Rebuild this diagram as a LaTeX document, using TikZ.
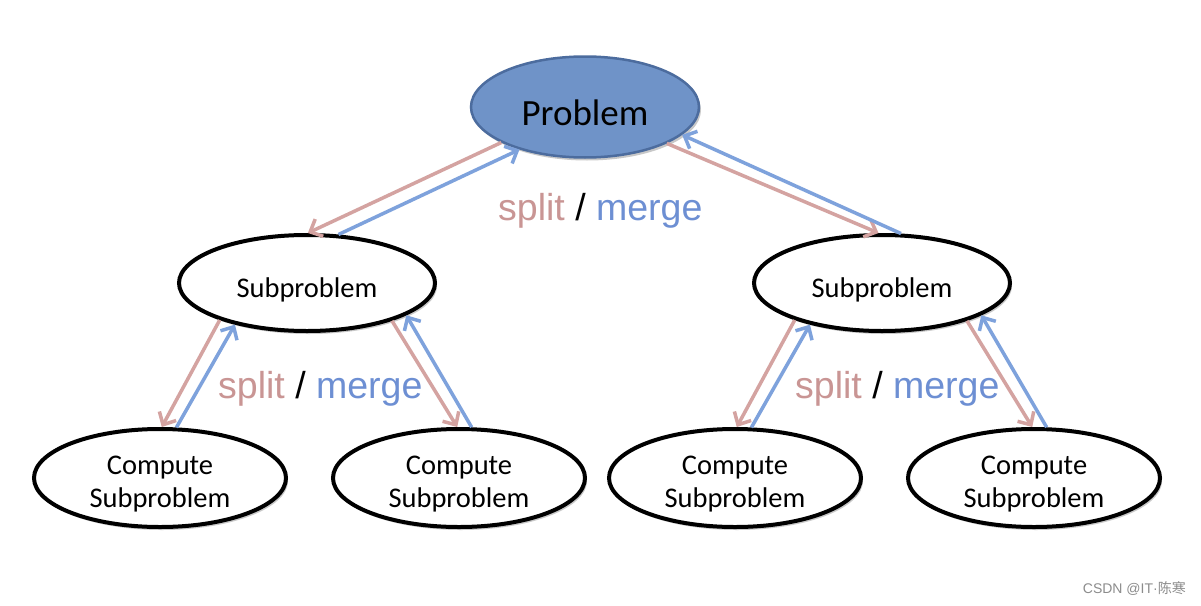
\documentclass[tikz,border=0pt]{standalone}
\usepackage{fontspec}
\setmainfont{Carlito}
\newfontfamily\arialf{Liberation Sans}
\newfontfamily\cjkf{Noto Sans CJK SC}
\usetikzlibrary{shapes.geometric,arrows.meta,shadows}
\definecolor{probfill}{HTML}{6F93C8}
\definecolor{probdraw}{HTML}{4C6C9E}
\definecolor{splitc}{HTML}{D4A3A1}
\definecolor{mergec}{HTML}{7EA2DC}
\definecolor{splittext}{HTML}{C99594}
\definecolor{mergetext}{HTML}{6D8FD3}
\tikzset{
  ell/.style={ellipse, draw=black, line width=4pt, fill=white, inner sep=0pt,
    drop shadow={shadow xshift=2pt, shadow yshift=-3pt, opacity=0.3, fill=black!70}},
  probnode/.style={ell, fill=probfill, draw=probdraw, line width=2.5pt,
    minimum width=228pt, minimum height=101pt, font=\fontsize{37}{44}\selectfont,
    text height=37pt, text depth=0pt},
  subnode/.style={ell, minimum width=256pt, minimum height=96pt,
    font=\fontsize{28.5}{33}\selectfont, text height=34pt, text depth=6pt},
  compnode/.style={ell, minimum width=252pt, minimum height=98pt,
    font=\fontsize{28.5}{33}\selectfont, text height=46pt, text depth=20pt},
  splitarr/.style={draw=splitc, line width=3.5pt, -{Straight Barb[length=10pt,width=19pt]}},
  mergearr/.style={draw=mergec, line width=3.5pt, -{Straight Barb[length=10pt,width=19pt]}},
  smlabel/.style={anchor=base west, inner sep=0pt, font=\arialf\fontsize{37.5}{44}\selectfont},
}
\newcommand{\smtext}{\textcolor{splittext}{split} / \textcolor{mergetext}{merge}}
\newcommand{\comptext}{\begin{tabular}{@{}c@{}}Compute\\Subproblem\end{tabular}}
\begin{document}
\begin{tikzpicture}[x=1pt,y=-1pt]
\useasboundingbox (0,0) rectangle (1201,605);
\fill[white] (0,0) rectangle (1201,605);

\node[probnode] (P) at (585,107) {Problem};
\node[subnode] (SL) at (307,283) {Subproblem};
\node[subnode] (SR) at (882,283) {Subproblem};
\node[compnode] (C1) at (160,478) {\comptext};
\node[compnode] (C2) at (459,478) {\comptext};
\node[compnode] (C3) at (735,478) {\comptext};
\node[compnode] (C4) at (1034,478) {\comptext};

% top level
\draw[splitarr] (P.203.7) -- (SL.89);
\draw[mergearr] (SL.57) -- (P.213.5);
\draw[splitarr] (P.336.3) -- (SR.94);
\draw[mergearr] (SR.69) -- (P.344);

% left subtree
\draw[splitarr] (SL.203.5) -- (C1.88);
\draw[mergearr] (C1.72) -- (SL.210);
\draw[splitarr] (SL.336.7) -- (C2.92);
\draw[mergearr] (C2.76) -- (SL.342);

% right subtree
\draw[splitarr] (SR.203.5) -- (C3.88);
\draw[mergearr] (C3.72) -- (SR.210);
\draw[splitarr] (SR.336.7) -- (C4.92);
\draw[mergearr] (C4.76) -- (SR.342);

\node[smlabel] (L1) at (498,220) {\smtext};
\node[smlabel] (L2) at (218,398) {\smtext};
\node[smlabel] (L3) at (795,398) {\smtext};

\node[anchor=base east, inner sep=0pt, text=black!45, font=\arialf\fontsize{14}{16}\selectfont] (W) at (1186,593) {CSDN @IT·{\cjkf 陈寒}};
\end{tikzpicture}
\end{document}
